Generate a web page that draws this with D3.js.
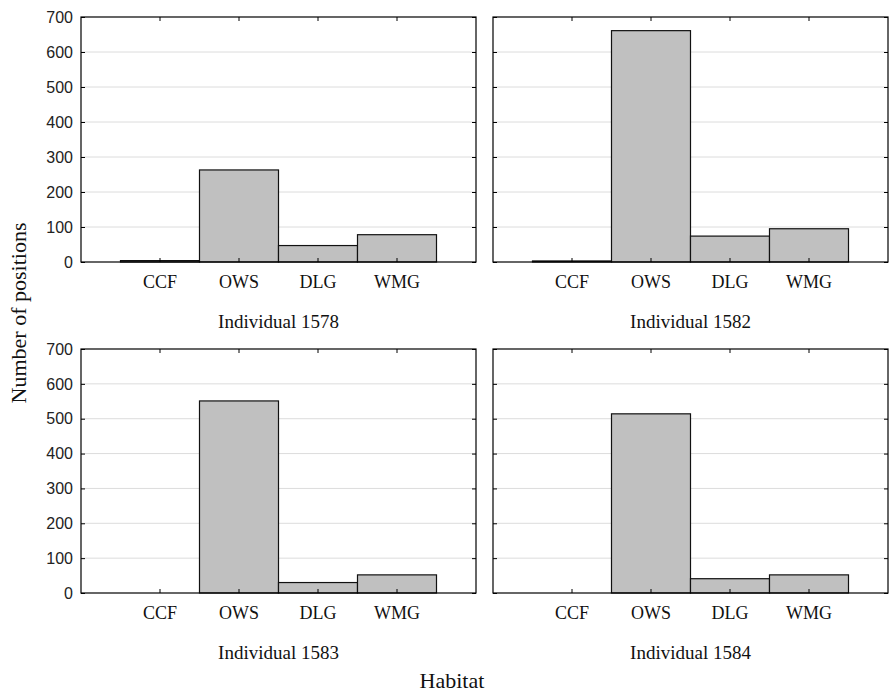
<!DOCTYPE html>
<html>
<head>
<meta charset="utf-8">
<script src="https://cdn.jsdelivr.net/npm/d3@7"></script>
<style>
body { margin: 0; background: #fff; }
</style>
</head>
<body>
<script>
let width = 893;
let height = 697;

const habitats = ['CCF', 'OWS', 'DLG', 'WMG'];
const individuals = ['Individual 1578', 'Individual 1582', 'Individual 1583', 'Individual 1584'];
const counts1578 = [4, 263, 47, 78];
const counts1582 = [3, 661, 74, 95];
const counts1583 = [0, 551, 30, 52];
const counts1584 = [0, 514, 41, 52];
const yTicks = [0, 100, 200, 300, 400, 500, 600, 700];

const allCounts = [counts1578, counts1582, counts1583, counts1584];

// panel boxes: left/right columns, top/bottom rows
const cols = [[81, 476], [493, 888]];
const rows = [[17, 262], [349, 593]];

let svg = d3.select('body').append('svg')
	.attr('width', width)
	.attr('height', height);

const serif = '"Liberation Serif", "Times New Roman", serif';
const sans = '"Liberation Sans", Arial, sans-serif';

for (let p = 0; p < 4; p++) {
	const c = cols[p % 2];
	const r = rows[Math.floor(p / 2)];
	const data = allCounts[p];

	const x = d3.scaleBand()
		.domain(habitats)
		.range(c)
		.paddingInner(0)
		.paddingOuter(0.5);
	const y = d3.scaleLinear()
		.domain([0, 700])
		.range([r[1], r[0]]);

	let g = svg.append('g');

	// grid lines
	g.selectAll('.grid')
		.data(yTicks.slice(1, -1))
		.enter().append('line')
		.attr('x1', c[0])
		.attr('x2', c[1])
		.attr('y1', d => y(d))
		.attr('y2', d => y(d))
		.style('stroke', '#dcdcdc')
		.style('stroke-width', 1);

	// bars
	g.selectAll('.bar')
		.data(data)
		.enter().append('rect')
		.attr('x', (d, i) => x(habitats[i]))
		.attr('width', x.bandwidth())
		.attr('y', d => y(d))
		.attr('height', d => y(0) - y(d))
		.style('fill', '#c0c0c0')
		.style('stroke', d => d > 0 ? '#111' : 'none')
		.style('stroke-width', 1.2);

	// inward ticks on all four sides
	const left = g.append('g')
		.attr('transform', 'translate(' + c[0] + ',0)')
		.call(d3.axisRight(y).tickValues(yTicks).tickSize(4).tickFormat(''));
	const right = g.append('g')
		.attr('transform', 'translate(' + c[1] + ',0)')
		.call(d3.axisLeft(y).tickValues(yTicks).tickSize(4).tickFormat(''));
	const top = g.append('g')
		.attr('transform', 'translate(0,' + r[0] + ')')
		.call(d3.axisBottom(x).tickSize(4).tickFormat(''));
	const bottom = g.append('g')
		.attr('transform', 'translate(0,' + r[1] + ')')
		.call(d3.axisTop(x).tickSize(4).tickFormat(''));
	[left, right, top, bottom].forEach(a => {
		a.select('.domain').remove();
		a.selectAll('line').style('stroke', '#000');
	});

	// frame
	g.append('rect')
		.attr('x', c[0])
		.attr('y', r[0])
		.attr('width', c[1] - c[0])
		.attr('height', r[1] - r[0])
		.style('fill', 'none')
		.style('stroke', '#000')
		.style('stroke-width', 1.2);

	// y tick labels on the left column only
	if (p % 2 === 0) {
		g.selectAll('.ylab')
			.data(yTicks)
			.enter().append('text')
			.attr('x', c[0] - 8)
			.attr('y', d => y(d))
			.attr('dy', '0.36em')
			.attr('text-anchor', 'end')
			.style('font-family', sans)
			.style('font-size', '16px')
			.style('fill', '#222')
			.text(d => d);
	}

	// category labels
	g.selectAll('.xlab')
		.data(habitats)
		.enter().append('text')
		.attr('x', d => x(d) + x.bandwidth() / 2)
		.attr('y', r[1] + 26)
		.attr('text-anchor', 'middle')
		.style('font-family', serif)
		.style('font-size', '18px')
		.style('fill', '#111')
		.text(d => d);

	// panel title under the axis
	g.append('text')
		.attr('x', (c[0] + c[1]) / 2)
		.attr('y', r[1] + 66)
		.attr('text-anchor', 'middle')
		.style('font-family', serif)
		.style('font-size', '19px')
		.style('fill', '#111')
		.text(individuals[p]);
}

svg.append('text')
	.attr('transform', 'translate(26,313) rotate(-90)')
	.attr('text-anchor', 'middle')
	.style('font-family', serif)
	.style('font-size', '22px')
	.style('fill', '#111')
	.text('Number of positions');

svg.append('text')
	.attr('x', 452)
	.attr('y', 688)
	.attr('text-anchor', 'middle')
	.style('font-family', serif)
	.style('font-size', '22px')
	.style('fill', '#111')
	.text('Habitat');
</script>
</body>
</html>
